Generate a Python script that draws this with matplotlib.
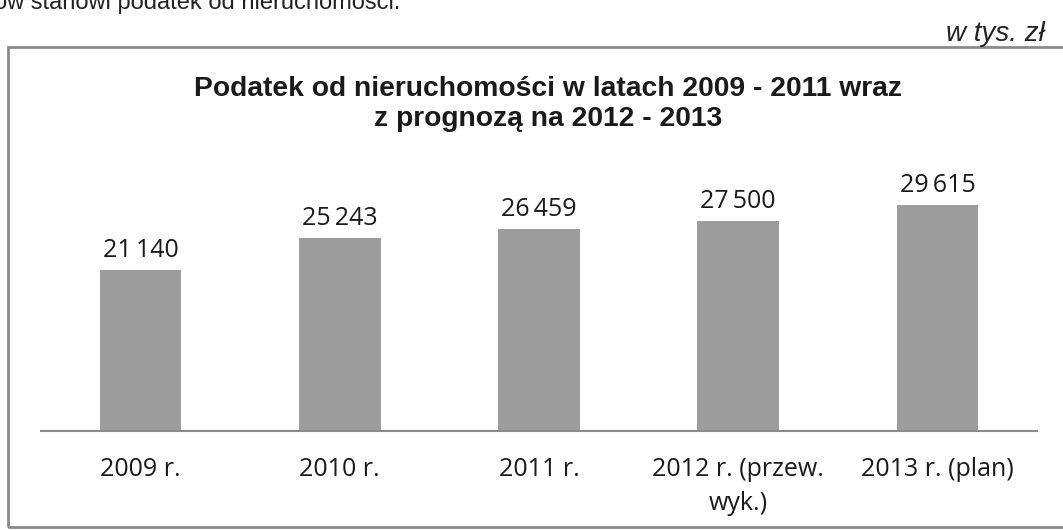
import matplotlib
matplotlib.use('Agg')
import matplotlib.pyplot as plt
from matplotlib.patches import Rectangle

# data (w tys. zl)
categories = ['2009 r.', '2010 r.', '2011 r.', '2012 r. (przew.\nwyk.)', '2013 r. (plan)']
values = [21140, 25243, 26459, 27500, 29615]
value_labels = ['21\u2009140', '25\u2009243', '26\u2009459', '27\u2009500', '29\u2009615']

title = 'Podatek od nieruchomości w latach 2009 - 2011 wraz\nz prognozą na 2012 - 2013'

W, H = 1063, 530
fig = plt.figure(figsize=(W / 100, H / 100), dpi=100)
fig.patch.set_facecolor('white')

# chart frame of the scanned page
frame = Rectangle((8 / W, 1 - 527 / H), 1.2, (527 - 47) / H,
                  transform=fig.transFigure, fill=False, edgecolor='#8a8a8a', lw=2)
fig.patches.append(frame)

# cut-off line of document text above the chart (as on the scan)
fig.text(-6 / W, 1 - 9 / H, 'ów stanowi podatek od nieruchomości.', fontsize=17,
         family='Liberation Sans', color='#222222', va='baseline', ha='left')
fig.text(1045 / W, 1 - 41 / H, 'w tys. zł', fontsize=20, style='italic',
         family='Liberation Sans', color='#222222', va='baseline', ha='right')

fig.text(548 / W, 1 - 104 / H, title, fontsize=20.3, weight='bold',
         family='Liberation Sans', color='#1a1a1a', ha='center', va='center',
         multialignment='center', linespacing=1.2)

ax = fig.add_axes([41 / W, 1 - 431 / H, 996 / W, 267 / H])
x = list(range(len(categories)))
bars = ax.bar(x, values, width=0.41, color='#9d9d9d')
ax.set_xlim(-0.5, 4.5)
ax.set_ylim(0, 35000)

for b, lab in zip(bars, value_labels):
    ax.annotate(lab, (b.get_x() + b.get_width() / 2, b.get_height()),
                xytext=(0, 5), textcoords='offset points', ha='center', va='bottom',
                fontsize=18, family='Open Sans', color='#1a1a1a')

ax.set_xticks(x)
ax.set_xticklabels(categories, fontsize=18, family='Open Sans', color='#1a1a1a',
                   linespacing=1.45, va='top')
ax.tick_params(axis='x', length=0, pad=19)
ax.set_yticks([])
for s in ['top', 'right', 'left']:
    ax.spines[s].set_visible(False)
ax.spines['bottom'].set_color('#8c8c8c')
ax.spines['bottom'].set_linewidth(1.5)

fig.savefig('out.png', dpi=100)
